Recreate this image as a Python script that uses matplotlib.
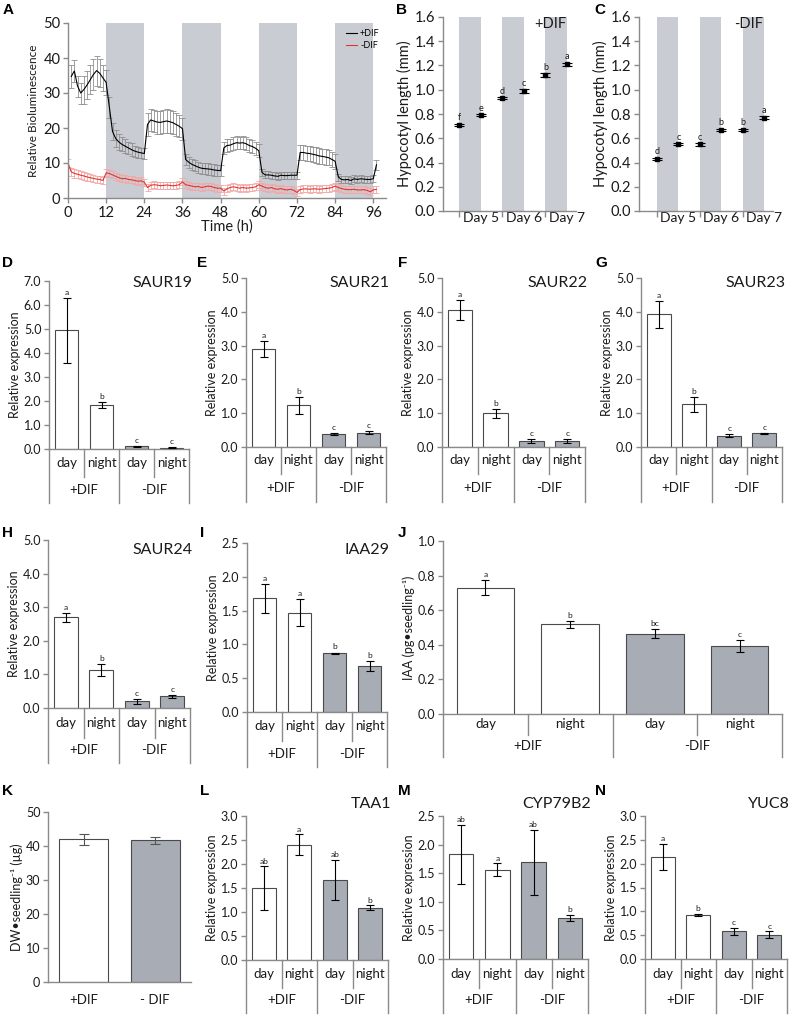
import matplotlib
matplotlib.use('Agg')
import matplotlib.pyplot as plt
import numpy as np
from matplotlib.transforms import blended_transform_factory
from matplotlib.lines import Line2D

plt.rcParams['font.family'] = ['Lato', 'DejaVu Sans']

# ---------------- data ----------------
# Panel A: bioluminescence time course
hours_black = list(range(1, 98))
black_mean = [34.7, 36.3, 32.0, 30.0, 31.0, 32.3, 33.8, 35.3, 36.4, 35.6, 34.3, 33.0,
              26.0, 19.0, 17.0, 16.0, 15.3, 14.8, 14.3, 13.8, 13.4, 13.1, 12.9, 12.7,
              21.0, 22.3, 22.0, 21.7, 21.6, 21.8, 22.0, 21.8, 21.5, 21.0, 20.5, 19.8,
              11.0, 10.2, 9.6, 9.2, 8.8, 8.5, 8.4, 8.3, 8.2, 8.0, 7.9, 7.8,
              14.3, 15.0, 15.1, 15.5, 15.8, 15.7, 15.8, 15.5, 15.0, 14.7, 14.2, 13.5,
              7.3, 6.6, 6.6, 6.5, 6.3, 6.2, 6.5, 6.4, 6.4, 6.5, 6.5, 6.5,
              13.0, 13.0, 12.8, 12.7, 12.5, 12.3, 12.0, 11.9, 11.7, 11.5, 11.0, 10.5,
              6.0, 5.3, 5.2, 5.3, 5.0, 5.5, 5.3, 5.5, 5.4, 5.3, 5.3, 5.5,
              9.5]
black_err = [3.2, 3.2, 3.0, 3.0, 4.0, 4.0, 4.2, 4.3, 4.3, 4.0, 3.8, 3.6,
             3.0, 2.5, 2.3, 2.2, 2.0, 2.0, 1.8, 1.8, 1.6, 1.6, 1.5, 1.5,
             3.2, 3.2, 3.2, 3.3, 3.3, 3.3, 3.3, 3.3, 3.3, 3.2, 3.2, 3.2,
             1.6, 1.6, 1.6, 1.6, 1.6, 1.6, 1.6, 1.6, 1.6, 1.6, 1.6, 1.6,
             1.8, 1.8, 1.8, 1.8, 1.8, 1.8, 1.8, 1.8, 1.8, 1.8, 1.8, 1.8,
             1.0, 1.0, 1.0, 1.0, 1.0, 1.0, 1.0, 1.0, 1.0, 1.0, 1.0, 1.0,
             2.2, 2.2, 2.2, 2.2, 2.2, 2.2, 2.2, 2.2, 2.2, 2.2, 2.2, 2.2,
             1.0, 1.0, 1.0, 1.0, 1.0, 1.0, 1.0, 1.0, 1.0, 1.0, 1.0, 1.0,
             1.5]
hours_red = list(range(0, 98))
red_mean = [10.0, 7.5, 7.0, 6.8, 6.5, 6.3, 6.0, 5.8, 5.6, 5.4, 5.3, 5.0,
            7.2, 7.0, 6.6, 6.2, 5.8, 5.5, 5.6, 5.3, 5.2, 5.0, 4.8, 4.9,
            4.5, 3.0, 3.6, 3.8, 3.7, 3.5, 3.6, 3.7, 3.6, 3.5, 3.6, 3.8,
            4.6, 3.8, 3.6, 3.4, 3.2, 3.3, 3.0, 3.2, 3.4, 3.3, 3.0, 2.8,
            2.8, 2.0, 2.6, 3.0, 3.2, 3.0, 2.8, 3.0, 2.8, 2.9, 3.0, 3.2,
            3.8, 3.4, 3.0, 2.8, 3.0, 2.6, 2.5, 2.7, 2.4, 2.3, 2.5, 2.2,
            1.6, 2.4, 2.6, 2.6, 2.5, 2.6, 2.6, 2.5, 2.6, 2.7, 2.8, 3.0,
            3.4, 3.0, 2.7, 2.5, 2.4, 2.4, 2.5, 2.3, 2.3, 2.4, 2.2, 1.8,
            2.3, 2.5]
red_err = [1.2, 1.2, 1.2, 1.1, 1.1, 1.1, 1.1, 1.0, 1.0, 1.0, 1.0, 1.0,
           1.0, 1.0, 1.0, 1.0, 1.0, 1.0, 1.0, 1.0, 1.0, 1.0, 1.0, 1.0,
           1.0, 1.0, 1.0, 1.0, 1.0, 1.0, 1.0, 1.0, 1.0, 1.0, 1.0, 1.0,
           1.0, 1.0, 1.0, 1.0, 1.0, 1.0, 1.0, 1.0, 1.0, 1.0, 1.0, 1.0,
           1.0, 1.0, 1.0, 1.0, 1.0, 1.0, 1.0, 1.0, 1.0, 1.0, 1.0, 1.0,
           1.0, 1.0, 1.0, 1.0, 1.0, 1.0, 1.0, 1.0, 1.0, 1.0, 1.0, 1.0,
           1.0, 1.0, 1.0, 1.0, 1.0, 1.0, 1.0, 1.0, 1.0, 1.0, 1.0, 1.0,
           1.0, 1.0, 1.0, 1.0, 1.0, 1.0, 1.0, 1.0, 1.0, 1.0, 1.0, 1.0,
           1.0, 1.0]

# Panels B, C: hypocotyl length
day_labels = ['Day 5', 'Day 6', 'Day 7']
B_vals = [0.71, 0.79, 0.93, 0.99, 1.12, 1.21]
B_errs = [0.01, 0.008, 0.01, 0.015, 0.015, 0.012]
B_lett = ['f', 'e', 'd', 'c', 'b', 'a']
C_vals = [0.43, 0.55, 0.55, 0.67, 0.67, 0.77]
C_errs = [0.01, 0.008, 0.01, 0.01, 0.01, 0.01]
C_lett = ['d', 'c', 'c', 'b', 'b', 'a']

# Expression panels
cats = ['day', 'night', 'day', 'night']
groups = ['+DIF', '-DIF']
D_vals = [4.95, 1.82, 0.12, 0.05];  D_errs = [1.35, 0.12, 0.02, 0.02]; D_lett = ['a', 'b', 'c', 'c']
E_vals = [2.90, 1.23, 0.38, 0.42];  E_errs = [0.25, 0.25, 0.03, 0.05]; E_lett = ['a', 'b', 'c', 'c']
F_vals = [4.05, 1.00, 0.18, 0.18];  F_errs = [0.30, 0.13, 0.05, 0.05]; F_lett = ['a', 'b', 'c', 'c']
G_vals = [3.93, 1.27, 0.33, 0.40];  G_errs = [0.40, 0.22, 0.04, 0.02]; G_lett = ['a', 'b', 'c', 'c']
H_vals = [2.70, 1.13, 0.20, 0.35];  H_errs = [0.13, 0.18, 0.07, 0.05]; H_lett = ['a', 'b', 'c', 'c']
I_vals = [1.68, 1.47, 0.87, 0.68];  I_errs = [0.22, 0.20, 0.01, 0.08]; I_lett = ['a', 'a', 'b', 'b']
J_vals = [0.73, 0.52, 0.465, 0.395]; J_errs = [0.045, 0.02, 0.025, 0.035]; J_lett = ['a', 'b', 'bc', 'c']
K_labels = ['+DIF', '- DIF']
K_vals = [42.0, 41.7]; K_errs = [1.6, 1.0]
L_vals = [1.50, 2.40, 1.67, 1.09];  L_errs = [0.45, 0.22, 0.41, 0.05]; L_lett = ['ab', 'a', 'ab', 'b']
M_vals = [1.83, 1.56, 1.69, 0.72];  M_errs = [0.52, 0.11, 0.57, 0.05]; M_lett = ['ab', 'a', 'ab', 'b']
N_vals = [2.14, 0.93, 0.58, 0.51];  N_errs = [0.27, 0.02, 0.08, 0.07]; N_lett = ['a', 'b', 'c', 'c']

# ---------------- figure ----------------
W, H = 789, 1016
fig = plt.figure(figsize=(W / 100, H / 100), dpi=100)

SPINE = '#8a8a8a'
SHADE = '#c9ccd2'
BARGRAY = '#a8acb4'
EDGE = '#4a4a4a'
TXT = '#1a1a1a'


def add_ax(l, r, t, b):
    return fig.add_axes([l / W, 1 - b / H, (r - l) / W, (b - t) / H])


def style(ax, fs):
    for s in ['top', 'right']:
        ax.spines[s].set_visible(False)
    for s in ['left', 'bottom']:
        ax.spines[s].set_color(SPINE)
        ax.spines[s].set_linewidth(1.0)
    ax.tick_params(axis='both', colors=SPINE, labelcolor=TXT, labelsize=fs,
                   length=3.5, width=1.0, pad=2)


def letter(x, y, s):
    fig.text(x / W, 1 - y / H, s, fontsize=11, fontweight='bold',
             family='Liberation Sans', va='top', ha='left')


def expr_panel(box, rows, ymax, step, vals, errs, letts, title=None, title_y=None,
               ylabel='Relative expression', fmt='{:.1f}'):
    l, r, t, b = box
    ax = add_ax(l, r, t, b)
    x = np.arange(len(vals))
    ax.bar(x, vals, width=0.68, color=['white', 'white', BARGRAY, BARGRAY],
           edgecolor=EDGE, linewidth=0.8, zorder=2)
    ax.errorbar(x, vals, yerr=errs, fmt='none', ecolor='black', elinewidth=0.8,
                capsize=3, capthick=0.8, zorder=3)
    for xi, v, e, s in zip(x, vals, errs, letts):
        ax.text(xi, v + e + ymax * 0.012, s, ha='center', va='bottom', fontsize=6, color=TXT)
    ax.set_xlim(-0.5, 3.5)
    ax.set_ylim(0, ymax)
    ticks = np.arange(0, ymax + 1e-9, step)
    ax.set_yticks(ticks)
    ax.set_yticklabels([fmt.format(v) for v in ticks])
    ax.set_xticks([])
    style(ax, 9)
    ax.set_ylabel(ylabel, fontsize=9, labelpad=2, color=TXT)
    r1, r2 = rows
    h = b - t
    f1 = -(r1 - b) / h
    f2 = -(r2 - b) / h
    tr = blended_transform_factory(ax.transData, ax.transAxes)
    for xx, f in [(-0.5, f2), (0.5, f1), (1.5, f2), (2.5, f1), (3.5, f2)]:
        ax.plot([xx, xx], [0, f], transform=tr, color=SPINE, lw=1.0, clip_on=False)
    for xi, s in zip(x, cats):
        ax.text(xi, f1 / 2, s, transform=tr, ha='center', va='center', fontsize=9.5, color=TXT)
    for xi, s in zip([0.5, 2.5], groups):
        ax.text(xi, (f1 + f2) / 2, s, transform=tr, ha='center', va='center', fontsize=9.5, color=TXT)
    if title:
        ax.text(1.0 + 3 / (r - l), (b - title_y) / h, title, transform=ax.transAxes,
                ha='right', va='center', fontsize=11.5, color=TXT)
    return ax


def hypo_panel(l, b, t, xl, xr, spacing, vals, errs, letts, tag):
    r = l + (xr - xl) * spacing
    ax = add_ax(l, r, t, b)
    x = np.arange(len(vals))
    for i in (0, 2, 4):
        ax.axvspan(i, i + 1, color=SHADE, lw=0, zorder=0)
    ax.errorbar(x, vals, yerr=errs, fmt='s', ms=2.2, color='black', ecolor='black',
                elinewidth=0.8, capsize=3.5, capthick=0.8, zorder=3)
    for xi, v, e, s in zip(x, vals, errs, letts):
        ax.text(xi, v + e + 0.012, s, ha='center', va='bottom', fontsize=6.5, color=TXT)
    ax.set_xlim(xl, xr)
    ax.set_ylim(0, 1.6)
    yt = np.arange(0, 1.6001, 0.2)
    ax.set_yticks(yt)
    ax.set_yticklabels(['{:.1f}'.format(v) for v in yt])
    style(ax, 10.5)
    ax.set_xticks([0, 2, 4])
    ax.set_xticklabels([])
    ax.set_xticks([1, 3, 5], minor=True)
    ax.set_xticklabels(day_labels, minor=True)
    ax.tick_params(axis='x', which='minor', length=0, labelsize=10, pad=1, labelcolor=TXT)
    ax.tick_params(axis='x', which='major', length=4)
    ax.set_ylabel('Hypocotyl length (mm)', fontsize=10.5, labelpad=2, color=TXT)
    ax.text(0.93, 0.965, tag, transform=ax.transAxes, ha='right', va='center',
            fontsize=10.5, color=TXT)
    return ax


# ---- Panel A ----
axA = add_ax(68, 386, 23, 198)
for s in [12, 36, 60, 84]:
    axA.axvspan(s, s + 12, color=SHADE, lw=0, zorder=0)
axA.errorbar(hours_red, red_mean, yerr=red_err, color='#e3342f', lw=0.8,
             ecolor='#f3a7a7', elinewidth=0.6, capsize=2, capthick=0.6, zorder=2)
axA.errorbar(hours_black, black_mean, yerr=black_err, color='black', lw=0.8,
             ecolor='#8f8f8f', elinewidth=0.6, capsize=2, capthick=0.6, zorder=3)
axA.set_xlim(0, 100)
axA.set_ylim(0, 50)
axA.set_xticks(range(0, 97, 12))
axA.set_yticks(range(0, 51, 10))
style(axA, 10.5)
axA.set_ylabel('Relative Bioluminescence', fontsize=8.5, labelpad=3, color=TXT)
axA.set_xlabel('Time (h)', fontsize=10.5, labelpad=0, color=TXT)
axA.legend([Line2D([], [], color='black', lw=0.8), Line2D([], [], color='#e3342f', lw=0.8)],
           ['+DIF', '-DIF'], loc='upper right', fontsize=6.5, frameon=False,
           handlelength=1.3, handletextpad=0.3, borderaxespad=0.3, labelspacing=0.3)

# ---- Panels B, C ----
hypo_panel(443, 211, 17, -0.74, 5.4, 21.6, B_vals, B_errs, B_lett, '+DIF')
hypo_panel(639, 211, 17, -0.84, 5.4, 21.4, C_vals, C_errs, C_lett, '-DIF')

# ---- Row D-G ----
expr_panel((49, 189, 281, 449), (477, 503), 7.0, 1.0, D_vals, D_errs, D_lett, 'SAUR19', 283)
expr_panel((246, 386, 278, 447), (474, 502), 5.0, 1.0, E_vals, E_errs, E_lett, 'SAUR21', 283)
expr_panel((442, 585, 278, 447), (474, 502), 5.0, 1.0, F_vals, F_errs, F_lett, 'SAUR22', 283)
expr_panel((641, 782, 278, 447), (474, 502), 5.0, 1.0, G_vals, G_errs, G_lett, 'SAUR23', 283)

# ---- Row H-J ----
expr_panel((48, 190, 540, 708), (738, 763), 5.0, 1.0, H_vals, H_errs, H_lett, 'SAUR24', 550)
expr_panel((247, 387, 543, 712), (741, 767), 2.5, 0.5, I_vals, I_errs, I_lett, 'IAA29', 550)
expr_panel((443, 782, 541, 714), (735, 757), 1.0, 0.2, J_vals, J_errs, J_lett,
           ylabel='IAA (pg\u2022seedling\u207b\u00b9)')

# ---- Panel K ----
axK = add_ax(48, 191, 812, 982)
axK.bar([0, 1], K_vals, width=0.68, color=['white', BARGRAY], edgecolor=EDGE, linewidth=0.8, zorder=2)
axK.errorbar([0, 1], K_vals, yerr=K_errs, fmt='none', ecolor='#555555', elinewidth=0.8,
             capsize=3.5, capthick=0.8, zorder=3)
axK.set_xlim(-0.5, 1.5)
axK.set_ylim(0, 50)
axK.set_yticks(range(0, 51, 10))
style(axK, 9)
axK.set_xticks([0, 1])
axK.set_xticklabels(K_labels)
axK.tick_params(axis='x', length=0, pad=9, labelsize=9.5)
axK.set_ylabel('DW\u2022seedling\u207b\u00b9 (\u00b5g)', fontsize=9, labelpad=2, color=TXT)

# ---- Row L-N ----
expr_panel((246, 388, 816, 960), (988, 1013), 3.0, 0.5, L_vals, L_errs, L_lett, 'TAA1', 804)
expr_panel((443, 588, 816, 959), (988, 1013), 2.5, 0.5, M_vals, M_errs, M_lett, 'CYP79B2', 804)
expr_panel((645, 787, 816, 959), (988, 1013), 3.0, 0.5, N_vals, N_errs, N_lett, 'YUC8', 804)

# ---- panel letters ----
for (x, y, s) in [(3, 3, 'A'), (396, 3, 'B'), (594, 3, 'C'),
                  (2, 256, 'D'), (197, 256, 'E'), (398, 256, 'F'), (595, 256, 'G'),
                  (2, 526, 'H'), (200, 526, 'I'), (398, 526, 'J'),
                  (2, 784, 'K'), (200, 784, 'L'), (398, 784, 'M'), (595, 784, 'N')]:
    letter(x, y, s)

fig.savefig('out.png', dpi=100)
